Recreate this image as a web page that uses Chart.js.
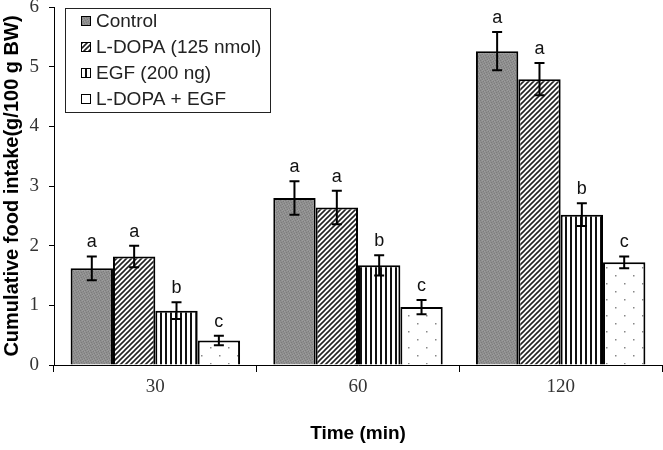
<!DOCTYPE html>
<html>
<head>
<meta charset="utf-8">
<script src="https://cdn.jsdelivr.net/npm/chart.js@4.4.1/dist/chart.umd.min.js"></script>
<style>
  html, body { margin: 0; padding: 0; background: #fff; }
  canvas { display: block; }
</style>
</head>
<body>
<canvas id="chart" width="663" height="450"></canvas>
<script>
const times = ["30", "60", "120"];
const groupLabels = ["Control", "L-DOPA (125 nmol)", "EGF (200 ng)", "L-DOPA + EGF"];

const control = [1.62, 2.80, 5.26];
const controlErr = [0.20, 0.28, 0.32];
const ldopa = [1.82, 2.64, 4.79];
const ldopaErr = [0.18, 0.28, 0.27];
const egf = [0.91, 1.67, 2.52];
const egfErr = [0.14, 0.17, 0.19];
const combo = [0.41, 0.97, 1.72];
const comboErr = [0.08, 0.12, 0.10];

const letters = [["a", "a", "a"], ["a", "a", "a"], ["b", "b", "b"], ["c", "c", "c"]];
const yTicks = [0, 1, 2, 3, 4, 5, 6];

function makePattern(w, h, paint) {
    const c = document.createElement("canvas");
    c.width = w;
    c.height = h;
    const g = c.getContext("2d");
    paint(g);
    return document.getElementById("chart").getContext("2d").createPattern(c, "repeat");
}

// fine grey stipple (irregular so it does not read as lines)
const grayFill = makePattern(5, 5, g => {
    g.fillStyle = "#8f8f8f";
    g.fillRect(0, 0, 5, 5);
    g.fillStyle = "#7d7d7d";
    [[0, 0], [3, 1], [1, 2], [4, 3], [2, 4]].forEach(p => g.fillRect(p[0], p[1], 1, 1));
    g.fillStyle = "#9d9d9d";
    [[2, 0], [0, 3], [4, 1], [3, 4]].forEach(p => g.fillRect(p[0], p[1], 1, 1));
});

// diagonal hatch
const hatchFill = makePattern(5, 5, g => {
    g.fillStyle = "#fff";
    g.fillRect(0, 0, 5, 5);
    g.strokeStyle = "#222";
    g.lineWidth = 1.6;
    g.beginPath();
    g.moveTo(-1, 6); g.lineTo(6, -1);
    g.moveTo(-1, 1); g.lineTo(1, -1);
    g.moveTo(4, 6); g.lineTo(6, 4);
    g.stroke();
});

// vertical stripes
const stripeFill = makePattern(5, 1, g => {
    g.fillStyle = "#fff";
    g.fillRect(0, 0, 5, 1);
    g.fillStyle = "#111";
    g.fillRect(0, 0, 2, 1);
});

// sparse dots
const dotFill = makePattern(18, 16, g => {
    g.fillStyle = "#fff";
    g.fillRect(0, 0, 18, 16);
    g.fillStyle = "#888";
    g.fillRect(3, 3, 1.5, 1.5);
    g.fillRect(12, 11, 1.5, 1.5);
});

const seriesValues = [control, ldopa, egf, combo];
const seriesErrors = [controlErr, ldopaErr, egfErr, comboErr];
const fills = [grayFill, hatchFill, stripeFill, dotFill];

const errorBarPlugin = {
    id: "errorBars",
    afterDatasetsDraw(chart) {
        const ctx = chart.ctx;
        const y = chart.scales.y;
        ctx.save();
        chart.data.datasets.forEach((ds, i) => {
            const meta = chart.getDatasetMeta(i);
            meta.data.forEach((bar, j) => {
                const v = ds.data[j];
                const e = seriesErrors[i][j];
                const top = y.getPixelForValue(v + e);
                const bottom = y.getPixelForValue(v - e);
                ctx.strokeStyle = "#000";
                ctx.lineWidth = 2;
                ctx.beginPath();
                ctx.moveTo(bar.x, top); ctx.lineTo(bar.x, bottom);
                ctx.moveTo(bar.x - 5, top); ctx.lineTo(bar.x + 5, top);
                ctx.moveTo(bar.x - 5, bottom); ctx.lineTo(bar.x + 5, bottom);
                ctx.stroke();
                ctx.fillStyle = "#111";
                ctx.font = "18px 'Liberation Sans', Arial, sans-serif";
                ctx.textAlign = "center";
                ctx.textBaseline = "bottom";
                ctx.fillText(letters[i][j], bar.x, top - 5);
            });
        });
        ctx.restore();
    }
};

const boxLegendPlugin = {
    id: "boxLegend",
    afterDraw(chart) {
        const ctx = chart.ctx;
        ctx.save();
        ctx.fillStyle = "#fff";
        ctx.fillRect(65, 8, 205, 104);
        ctx.strokeStyle = "#222";
        ctx.lineWidth = 1;
        ctx.strokeRect(65.5, 8.5, 205, 104);
        ctx.font = "19px 'Liberation Sans', Arial, sans-serif";
        ctx.textBaseline = "middle";
        ctx.textAlign = "left";
        chart.data.datasets.forEach((ds, i) => {
            const cy = 21 + i * 26;
            ctx.fillStyle = ds.backgroundColor;
            ctx.fillRect(82, cy - 4, 8, 8);
            ctx.strokeStyle = "#000";
            ctx.lineWidth = 1;
            ctx.strokeRect(81.5, cy - 4.5, 9, 9);
            ctx.fillStyle = "#222";
            ctx.fillText(ds.label, 96, cy + 1);
        });
        ctx.restore();
    }
};

new Chart(document.getElementById("chart"), {
    type: "bar",
    data: {
        labels: times,
        datasets: groupLabels.map((label, i) => ({
            label: label,
            data: seriesValues[i],
            backgroundColor: fills[i],
            borderColor: "#000",
            borderWidth: 2,
            borderSkipped: "bottom",
            categoryPercentage: 0.836,
            barPercentage: 1.0
        }))
    },
    options: {
        responsive: false,
        animation: false,
        devicePixelRatio: 1,
        layout: { padding: { top: 7, right: 1, left: 0, bottom: 0 } },
        plugins: {
            legend: { display: false },
            tooltip: { enabled: false }
        },
        scales: {
            x: {
                afterFit: scale => { scale.height = 85; scale.paddingLeft = 0; scale.paddingRight = 0; },
                grid: {
                    drawOnChartArea: false,
                    tickLength: 7,
                    color: "#000",
                    offset: true
                },
                border: { color: "#000", width: 1 },
                ticks: {
                    color: "#333",
                    padding: 4,
                    font: { family: "'Liberation Serif', 'Times New Roman', serif", size: 19 }
                },
                title: {
                    display: true,
                    text: "Time (min)",
                    color: "#000",
                    font: { family: "'Liberation Sans', Arial, sans-serif", size: 19, weight: "bold" },
                    padding: { top: 0, bottom: 5 }
                }
            },
            y: {
                min: yTicks[0],
                max: yTicks[yTicks.length - 1],
                afterFit: scale => { scale.width = 54; scale.paddingTop = 0; scale.paddingBottom = 0; },
                afterBuildTicks: scale => { scale.ticks = yTicks.map(v => ({ value: v })); },
                grid: {
                    drawOnChartArea: false,
                    tickLength: 5,
                    color: "#000"
                },
                border: { color: "#000", width: 1 },
                ticks: {
                    color: "#333",
                    padding: 10,
                    font: { family: "'Liberation Serif', 'Times New Roman', serif", size: 19 }
                },
                title: {
                    display: true,
                    text: "Cumulative food intake(g/100 g BW)",
                    color: "#000",
                    font: { family: "'Liberation Sans', Arial, sans-serif", size: 20, weight: "bold" },
                    padding: { top: 0, bottom: 0 }
                }
            }
        }
    },
    plugins: [errorBarPlugin, boxLegendPlugin]
});
</script>
</body>
</html>
